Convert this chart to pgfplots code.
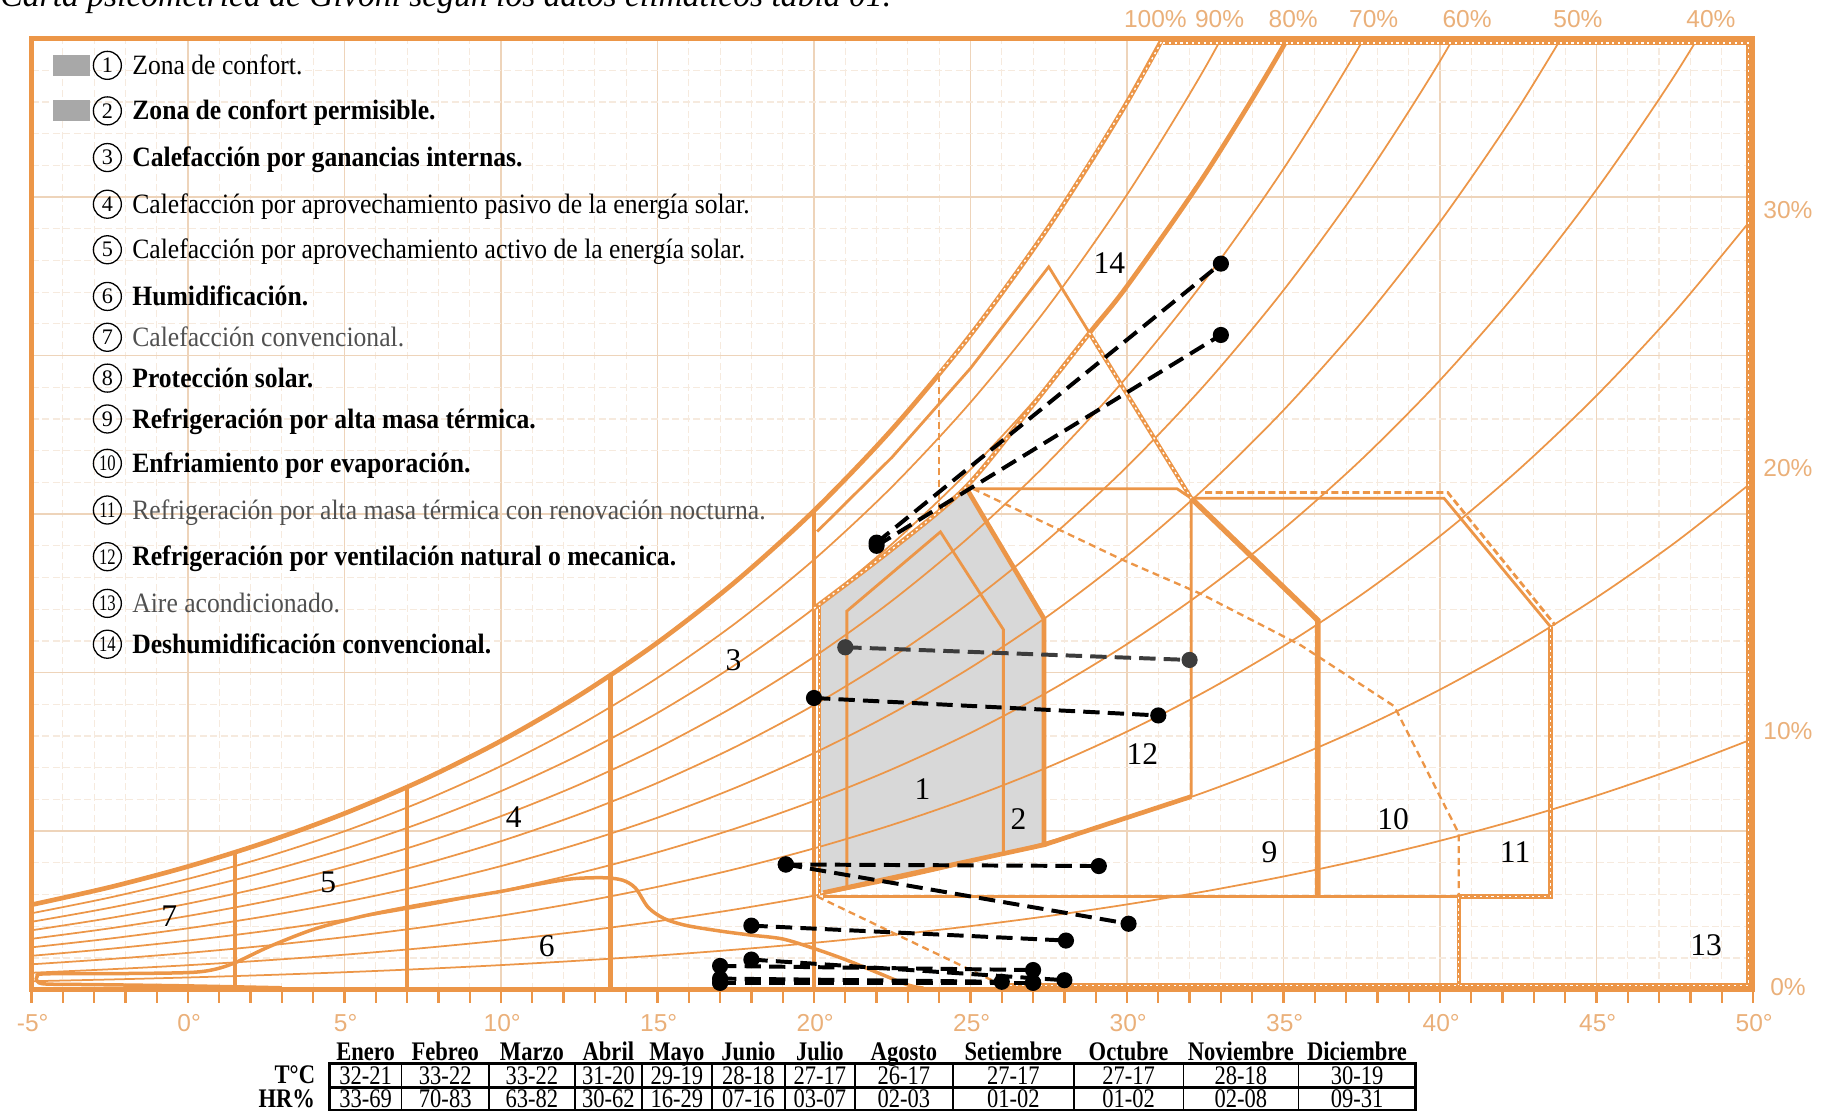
\documentclass[border=0pt]{standalone}
\usepackage{pgfplots}
\pgfplotsset{compat=1.18}
\usepackage{graphicx}
\usepackage{fontspec}
\setmainfont{Liberation Serif}
\newfontfamily\sansf{Liberation Sans}
\definecolor{org}{RGB}{236,150,72}
\definecolor{tickorg}{RGB}{234,176,122}
\definecolor{gridmaj}{RGB}{238,212,186}
\definecolor{gridmin}{RGB}{246,234,222}
\definecolor{zgray}{RGB}{216,216,216}
\definecolor{boxgray}{RGB}{168,168,168}
\definecolor{txtgray}{RGB}{80,80,80}
\definecolor{enegray}{RGB}{60,60,60}
\pgfplotsset{
  rh/.style={org, line width=0.75pt, smooth, mark=none},
  thk/.style={org, line width=2pt, mark=none},
  med/.style={org, line width=1.2pt, mark=none},
  dsh/.style={org, line width=1pt, dash pattern=on 3pt off 2pt, mark=none},
  band/.style={org, line width=1.8pt, mark=none},
  dots/.style={white, line width=0.6pt, dash pattern=on 0.9pt off 1.6pt, mark=none},
  month/.style={black, line width=1.7pt, dash pattern=on 7pt off 3.5pt, mark=*, mark size=2.6pt, mark options={solid, fill=black}},
}
\newcommand\lgitem[3]{%
  \node[draw=black, circle, line width=0.55pt, minimum size=12pt, inner sep=0pt, font=\fontsize{9.5}{10}\selectfont] at (32.5pt,#2pt) {#1};
  \node[anchor=base west, inner sep=0pt, font=\fontsize{12}{14}\selectfont] at (43pt,#2pt-3.9pt) {\scalebox{0.915}[1]{#3}};}
\newcommand\zl[3]{\node[font=\fontsize{13.5}{14}\selectfont] at (axis cs:#1,#2) {#3};}
\newcommand\tb[1]{\scalebox{0.84}[1]{#1}}
\begin{document}
\begin{tikzpicture}
\begin{axis}[
  scale only axis, width=737.5pt, height=407.5pt,
  xmin=-5, xmax=50, ymin=0, ymax=30,
  clip mode=individual,
  axis line style={org, line width=2pt},
  xtick={-5,0,...,50}, minor x tick num=4, xticklabels={},
  ytick={0,5,...,30}, minor y tick num=4, yticklabels={},
  xtick pos=left, tick align=outside,
  major tick length=5.5pt, minor tick length=5.5pt,
  xtick style={org, line width=1pt},
  ytick style={draw=none},
  grid=both,
  major grid style={gridmaj, line width=0.6pt},
  minor grid style={gridmin, line width=0.5pt, dash pattern=on 3pt off 1.5pt},
]
% comfort zone fill (zone 2 outline, contains zone 1)
\addplot[fill=zgray, draw=none] coordinates {(20.2,3.06)(20.2,12.19)(21,12.75)(22.5,13.9)(24,15.12)(24.85,15.85)(27.35,11.7)(27.35,4.57)} -- cycle;
% relative humidity curves 100% ... 10%
\addplot[rh] coordinates {(-5,2.679)(-2.5,3.232)(0,3.886)(2.5,4.656)(5,5.559)(7.5,6.615)(10,7.848)(12.5,9.282)(15,10.948)(17.5,12.877)(20,15.108)(22.5,17.683)(25,20.650)(27.5,24.064)(30,27.986)(32.5,32.489)};
\addplot[rh] coordinates {(-5,2.410)(-2.5,2.907)(0,3.495)(2.5,4.187)(5,4.998)(7.5,5.947)(10,7.054)(12.5,8.342)(15,9.836)(17.5,11.566)(20,13.564)(22.5,15.869)(25,18.523)(27.5,21.573)(30,25.075)(32.5,29.088)(35,33.687)};
\addplot[rh] coordinates {(-5,2.141)(-2.5,2.583)(0,3.105)(2.5,3.719)(5,4.439)(7.5,5.281)(10,6.263)(12.5,7.404)(15,8.728)(17.5,10.259)(20,12.028)(22.5,14.066)(25,16.411)(27.5,19.103)(30,22.189)(32.5,25.722)(35,29.765)(37.5,34.388)};
\addplot[rh] coordinates {(-5,1.873)(-2.5,2.259)(0,2.715)(2.5,3.252)(5,3.881)(7.5,4.616)(10,5.473)(12.5,6.469)(15,7.623)(17.5,8.959)(20,10.499)(22.5,12.273)(25,14.312)(27.5,16.651)(30,19.329)(32.5,22.391)(35,25.889)(37.5,29.883)(40,34.439)};
\addplot[rh] coordinates {(-5,1.604)(-2.5,1.935)(0,2.326)(2.5,2.785)(5,3.323)(7.5,3.952)(10,4.685)(12.5,5.536)(15,6.523)(17.5,7.663)(20,8.978)(22.5,10.490)(25,12.228)(27.5,14.218)(30,16.495)(32.5,19.094)(35,22.059)(37.5,25.440)(40,29.287)(42.5,33.662)};
\addplot[rh] coordinates {(-5,1.336)(-2.5,1.612)(0,1.937)(2.5,2.319)(5,2.767)(7.5,3.290)(10,3.899)(12.5,4.607)(15,5.426)(17.5,6.373)(20,7.463)(22.5,8.718)(25,10.156)(27.5,11.803)(30,13.685)(32.5,15.831)(35,18.275)(37.5,21.056)(40,24.216)(42.5,27.801)(45,31.867)};
\addplot[rh] coordinates {(-5,1.069)(-2.5,1.289)(0,1.549)(2.5,1.854)(5,2.212)(7.5,2.629)(10,3.116)(12.5,3.680)(15,4.334)(17.5,5.088)(20,5.957)(22.5,6.955)(25,8.099)(27.5,9.407)(30,10.900)(32.5,12.601)(35,14.535)(37.5,16.731)(40,19.223)(42.5,22.044)(45,25.235)(47.5,28.839)(50,32.907)};
\addplot[rh] coordinates {(-5,0.801)(-2.5,0.966)(0,1.161)(2.5,1.389)(5,1.657)(7.5,1.970)(10,2.334)(12.5,2.756)(15,3.245)(17.5,3.808)(20,4.457)(22.5,5.201)(25,6.054)(27.5,7.029)(30,8.140)(32.5,9.403)(35,10.838)(37.5,12.465)(40,14.307)(42.5,16.388)(45,18.736)(47.5,21.382)(50,24.358)};
\addplot[rh] coordinates {(-5,0.534)(-2.5,0.644)(0,0.773)(2.5,0.926)(5,1.104)(7.5,1.312)(10,1.554)(12.5,1.835)(15,2.159)(17.5,2.534)(20,2.964)(22.5,3.458)(25,4.023)(27.5,4.668)(30,5.403)(32.5,6.237)(35,7.183)(37.5,8.255)(40,9.465)(42.5,10.830)(45,12.366)(47.5,14.093)(50,16.030)};
\addplot[rh] coordinates {(-5,0.267)(-2.5,0.322)(0,0.386)(2.5,0.462)(5,0.551)(7.5,0.655)(10,0.776)(12.5,0.916)(15,1.078)(17.5,1.264)(20,1.479)(22.5,1.724)(25,2.005)(27.5,2.325)(30,2.690)(32.5,3.103)(35,3.571)(37.5,4.100)(40,4.697)(42.5,5.368)(45,6.123)(47.5,6.968)(50,7.913)};
% saturation curve (thick) and upper comfort / dehumidification boundary (thick)
\addplot[thk, smooth] coordinates {(-5,2.679)(-2.5,3.232)(0,3.886)(2.5,4.656)(5,5.559)(7.5,6.615)(10,7.848)(12.5,9.282)(15,10.948)(17.5,12.877)(20,15.108)(22.5,17.683)(25,20.650)(27.5,24.064)(30,27.986)(32.5,32.489)};
\addplot[thk, smooth] coordinates {(20,12.028)(22.5,13.9)(24.85,15.85)(27,18.45)(28.8,20.71)(30,22.189)(32.5,25.722)(35,29.765)(37.5,34.388)};
% vertical zone limits
\addplot[thk] coordinates {(1.5,0)(1.5,4.35)};
\addplot[thk] coordinates {(7,0)(7,6.40)};
\addplot[thk] coordinates {(13.5,0)(13.5,9.95)};
\addplot[thk] coordinates {(20,0)(20,15.11)};
% zone 1
\addplot[med] coordinates {(21.05,3.24)(21.05,11.94)(24.04,14.44)(26.05,11.36)(26.05,4.30)};
% zone 2 outline
\addplot[thk] coordinates {(24.85,15.85)(27.35,11.7)(27.35,4.57)(20.3,3.06)};
% solar protection / ventilation lines
\addplot[med] coordinates {(20.1,14.45)(22.5,16.8)(25,19.6)(27.5,22.8)(32.05,15.5)};
\addplot[med] coordinates {(25.08,15.8)(31.6,15.8)(32.05,15.5)(32.05,6.09)};
\addplot[thk] coordinates {(27.35,4.57)(32.05,6.09)};
% zone 9
\addplot[org, line width=2.3pt] coordinates {(32.05,15.5)(36.1,11.65)(36.1,2.94)};
\addplot[org, line width=1.5pt] coordinates {(20.3,2.94)(43.53,2.94)};
% zone 10
\addplot[med] coordinates {(32.05,15.5)(40.13,15.5)(43.53,11.45)};
% dashed lines
\addplot[dsh] coordinates {(25.08,15.8)(29.81,13.58)(32.37,12.48)(35.56,10.86)(38.54,8.94)(40.6,4.93)(40.6,2.94)};
\addplot[dsh] coordinates {(20.1,2.94)(26.0,0.15)};
\addplot[dsh] coordinates {(24.0,15.12)(24.0,19.46)};
\addplot[org, line width=1.2pt, dash pattern=on 3pt off 1.5pt] coordinates {(32.5,15.68)(40.25,15.68)(43.68,11.5)};
% double (dotted) boundaries
\addplot[dots, smooth] coordinates {(24,19.46)(25,20.65)(27.5,24.064)(30,27.986)(31.1,29.9)};
\addplot[band] coordinates {(31.15,29.86)(49.86,29.86)(49.86,0.14)(26.0,0.14)};
\addplot[dots] coordinates {(31.15,29.86)(49.86,29.86)(49.86,0.14)(26.0,0.14)};
\addplot[band] coordinates {(43.53,11.45)(43.53,2.94)(40.6,2.94)(40.6,0.14)};
\addplot[dots] coordinates {(43.53,11.45)(43.53,2.94)(40.6,2.94)(40.6,0.14)};
\addplot[org, line width=1.2pt] coordinates {(20.17,2.98)(20.17,12.1)};
\addplot[dots] coordinates {(20.17,2.98)(20.17,12.1)};
\addplot[dots, smooth] coordinates {(20,12.028)(22.5,13.9)(24.85,15.85)(27,18.45)(28.8,20.71)};
\addplot[band] coordinates {(28.8,20.71)(32.05,15.5)};
\addplot[dots] coordinates {(28.8,20.71)(32.05,15.5)};
% humidification curve
\addplot[org, line width=1.5pt, smooth] coordinates {(3,0.06)(0,0.12)(-3,0.16)(-4.55,0.18)(-4.82,0.27)(-4.82,0.42)(-4.55,0.5)(-2,0.51)(0,0.54)(0.8,0.63)(1.5,0.85)(2.6,1.36)(4,1.9)(5.5,2.3)(7.1,2.62)(8.3,2.82)(10,3.1)(11.2,3.33)(12.3,3.5)(13.3,3.53)(13.9,3.45)(14.3,3.2)(14.7,2.6)(15.2,2.25)(15.9,2.03)(17,1.85)(18,1.72)(19,1.6)(20,1.3)(21,0.95)(22,0.55)(23,0.15)(23.5,0.05)};
% monthly climate lines (Tmax-HRmin to Tmin-HRmax)
\addplot[month, color=enegray, mark options={solid, fill=enegray}] coordinates {(21,10.8)(32,10.4)};
\addplot[month] coordinates {(22,14.1)(33,22.9)};
\addplot[month] coordinates {(22,14.0)(33,20.65)};
\addplot[month] coordinates {(20,9.2)(31,8.65)};
\addplot[month] coordinates {(19.1,3.95)(29.1,3.9)};
\addplot[month] coordinates {(18,2.02)(28.05,1.55)};
\addplot[month] coordinates {(17,0.75)(27,0.62)};
\addplot[month] coordinates {(17,0.35)(26,0.25)};
\addplot[month] coordinates {(17,0.22)(27,0.22)};
\addplot[month] coordinates {(17,0.22)(27,0.22)};
\addplot[month] coordinates {(18,0.95)(28,0.3)};
\addplot[month] coordinates {(19.1,3.95)(30.05,2.08)};
% zone numbers
\zl{23.47}{6.33}{1}
\zl{26.53}{5.37}{2}
\zl{17.43}{10.38}{3}
\zl{10.41}{5.45}{4}
\zl{4.48}{3.39}{5}
\zl{11.46}{1.36}{6}
\zl{-0.6}{2.32}{7}
\zl{34.55}{4.34}{9}
\zl{38.5}{5.37}{10}
\zl{42.4}{4.34}{11}
\zl{30.49}{7.43}{12}
\zl{48.5}{1.4}{13}
\zl{29.44}{22.93}{14}
\end{axis}
% title (partly cut by the page edge, as in the reference)
\node[anchor=base west, inner sep=0pt, font=\itshape\fontsize{14.4}{16}\selectfont] at (-13.5pt,421pt) {Carta psicométrica de Givoni según los datos climáticos tabla 01.};
% x tick labels
\foreach \t in {-5,0,...,50}{
  \pgfmathsetmacro\xx{(\t+5)*13.40909+0.5}
  \node[font=\sansf\fontsize{10.5}{12}\selectfont, text=tickorg] at (\xx pt,-14.5pt) {\t°};
}
% top RH labels
\begin{scope}[font=\sansf\fontsize{10.5}{12}\selectfont, text=tickorg]
\node at (481.5pt,416pt) {100\%};
\node at (509pt,416pt) {90\%};
\node at (540.5pt,416pt) {80\%};
\node at (575pt,416pt) {70\%};
\node at (615pt,416pt) {60\%};
\node at (662.5pt,416pt) {50\%};
\node at (719.5pt,416pt) {40\%};
\node at (752.5pt,334pt) {30\%};
\node at (752.5pt,223.5pt) {20\%};
\node at (752.5pt,111pt) {10\%};
\node at (752.5pt,1pt) {0\%};
\end{scope}
% legend
\fill[boxgray] (9pt,391.5pt) rectangle (25pt,400.5pt);
\fill[boxgray] (9pt,372pt) rectangle (25pt,381pt);
\lgitem{1}{396}{Zona de confort.}
\lgitem{2}{376.5}{\bfseries Zona de confort permisible.}
\lgitem{3}{356.5}{\bfseries Calefacción por ganancias internas.}
\lgitem{4}{336.5}{Calefacción por aprovechamiento pasivo de la energía solar.}
\lgitem{5}{317}{Calefacción por aprovechamiento activo de la energía solar.}
\lgitem{6}{297}{\bfseries Humidificación.}
\lgitem{7}{279.5}{\color{txtgray}Calefacción convencional.}
\lgitem{8}{262}{\bfseries Protección solar.}
\lgitem{9}{244.5}{\bfseries Refrigeración por alta masa térmica.}
\lgitem{\scalebox{0.75}[1]{10}}{225.5}{\bfseries Enfriamiento por evaporación.}
\lgitem{\scalebox{0.75}[1]{11}}{205.5}{\color{txtgray}Refrigeración por alta masa térmica con renovación nocturna.}
\lgitem{\scalebox{0.75}[1]{12}}{185.5}{\bfseries Refrigeración por ventilación natural o mecanica.}
\lgitem{\scalebox{0.75}[1]{13}}{165.5}{\color{txtgray}Aire acondicionado.}
\lgitem{\scalebox{0.75}[1]{14}}{148}{\bfseries Deshumidificación convencional.}
% climate table
\draw[line width=1.1pt] (127.75pt,-31.5pt) rectangle (593pt,-51.5pt);
\draw[line width=1.1pt] (127.75pt,-42pt) -- (593pt,-42pt);
\node[anchor=base east, font=\bfseries\fontsize{11.5}{12}\selectfont] at (125pt,-40.3pt) {\tb{T°C}};
\node[anchor=base east, font=\bfseries\fontsize{11.5}{12}\selectfont] at (125pt,-50.3pt) {\tb{HR\%}};
\foreach \a/\b/\m/\t/\h in {127.75/158.5/Enero/32-21, 158.5/196/Febreo/33-22, 196/232.75/Marzo/33-22, 232.75/261.5/Abril/31-20, 261.5/291.5/Mayo/29-19, 291.5/322.75/Junio/28-18, 322.75/352.75/Julio/27-17, 352.75/394.75/Agosto/26-17, 394.75/446.5/Setiembre/27-17, 446.5/493.5/Octubre/27-17, 493.5/542.75/Noviembre/28-18, 542.75/593/Diciembre/30-19}{
  \pgfmathsetmacro\cx{(\a+\b)/2}
  \node[anchor=base, inner sep=0pt, font=\bfseries\fontsize{11.5}{12}\selectfont] at (\cx pt,-30.3pt) {\tb{\m}};
  \node[anchor=base, inner sep=0pt, font=\fontsize{11.5}{12}\selectfont] at (\cx pt,-40.5pt) {\tb{\t}};
  \draw[line width=0.7pt] (\b pt,-31.5pt) -- (\b pt,-51.5pt);
}
\foreach \a/\b/\h in {127.75/158.5/33-69, 158.5/196/70-83, 196/232.75/63-82, 232.75/261.5/30-62, 261.5/291.5/16-29, 291.5/322.75/07-16, 322.75/352.75/03-07, 352.75/394.75/02-03, 394.75/446.5/01-02, 446.5/493.5/01-02, 493.5/542.75/02-08, 542.75/593/09-31}{
  \pgfmathsetmacro\cx{(\a+\b)/2}
  \node[anchor=base, inner sep=0pt, font=\fontsize{11.5}{12}\selectfont] at (\cx pt,-50.5pt) {\tb{\h}};
}
\pgfresetboundingbox
\path[use as bounding box] (-13.5pt,-53pt) rectangle (770.5pt,424pt);
\end{tikzpicture}
\end{document}
